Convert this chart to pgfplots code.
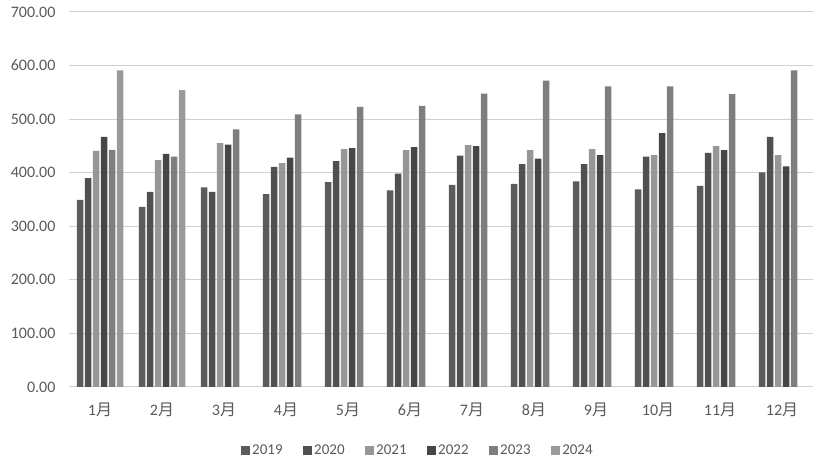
\documentclass[border=0pt]{standalone}
\usepackage{fontspec}
\setmainfont{Carlito}
\newfontfamily\cjk{Noto Sans CJK SC}
\usepackage{pgfplots}
\pgfplotsset{compat=1.18}
\usetikzlibrary{calc}

\definecolor{txt}{HTML}{595959}
\definecolor{gridc}{HTML}{D0D0D0}
\definecolor{c19}{HTML}{5B5B5B}
\definecolor{c20}{HTML}{505050}
\definecolor{c21}{HTML}{979797}
\definecolor{c22}{HTML}{464646}
\definecolor{c23}{HTML}{7E7E7E}
\definecolor{c24}{HTML}{9A9A9A}

\newcommand\yue{{\cjk 月}}

\begin{document}
\begin{tikzpicture}
\begin{axis}[
  scale only axis,
  width=744pt, height=375pt,
  ybar=1.5pt, bar width=6.5pt,
  xmin=0.5, xmax=12.5,
  ymin=0, ymax=700,
  xtick={1,...,12},
  xticklabels={1\yue,2\yue,3\yue,4\yue,5\yue,6\yue,7\yue,8\yue,9\yue,10\yue,11\yue,12\yue},
  ytick={0,100,...,700},
  /pgf/number format/assume math mode=true,
  yticklabel style={/pgf/number format/fixed, /pgf/number format/fixed zerofill,
    /pgf/number format/precision=2, xshift=-10pt},
  tick label style={font=\fontsize{16}{19}\selectfont, text=txt},
  xticklabel style={yshift=-8pt},
  major tick style={draw=none},
  ymajorgrids, grid style={draw=gridc, line width=1pt},
  axis x line*=bottom, axis y line*=left,
  x axis line style={draw=gridc, line width=1pt, -},
  y axis line style={draw=none},
  legend columns=6,
  legend style={draw=none, fill=none, at={(0.469,-0.169)}, anchor=center,
    font=\fontsize{15}{18}\selectfont, text=txt,
    /tikz/every even column/.append style={column sep=18.6pt}},
  legend image code/.code={\path[#1, draw=none] (0pt,-4.5pt) rectangle (9pt,4.5pt);},
]
\addplot[fill=c19, draw=none] coordinates {(1,349.5)(2,336)(3,372.5)(4,360)(5,382.4)(6,367)(7,377.5)(8,379.3)(9,384)(10,368.7)(11,375.6)(12,400.4)};
\addlegendentry{2019}
\addplot[fill=c20, draw=none] coordinates {(1,390)(2,364)(3,364)(4,411)(5,421.5)(6,398.5)(7,432)(8,416)(9,416)(10,430)(11,437)(12,466.9)};
\addlegendentry{2020}
\addplot[fill=c21, draw=none] coordinates {(1,440.8)(2,423.4)(3,455)(4,418)(5,444)(6,442)(7,451.4)(8,442)(9,444)(10,433)(11,449.5)(12,433)};
\addlegendentry{2021}
\addplot[fill=c22, draw=none] coordinates {(1,466.9)(2,435)(3,452.6)(4,428)(5,445.8)(6,447.6)(7,449.5)(8,426.5)(9,433)(10,473.7)(11,442)(12,412)};
\addlegendentry{2022}
\addplot[fill=c23, draw=none] coordinates {(1,442.6)(2,430)(3,481)(4,509)(5,522.7)(6,524.6)(7,547.5)(8,571.7)(9,561)(10,561)(11,546.9)(12,591)};
\addlegendentry{2023}
\addplot[fill=c24, draw=none] coordinates {(1,591)(2,554)};
\addlegendentry{2024}
\end{axis}
\pgfresetboundingbox
\path[use as bounding box] ($(current axis.south west)+(-69pt,-77.3pt)$) rectangle ($(current axis.north east)+(8pt,12pt)$);
\end{tikzpicture}
\end{document}
